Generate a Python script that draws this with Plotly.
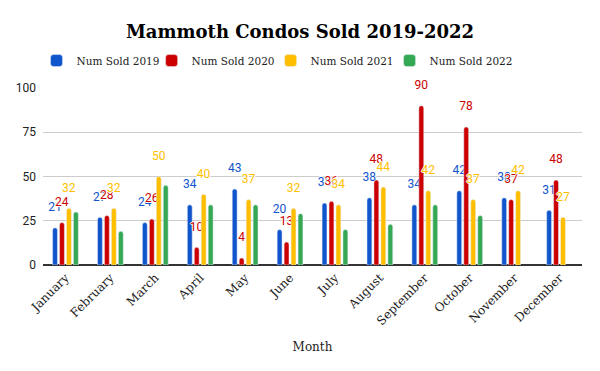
import plotly.graph_objects as go

months = ["January", "February", "March", "April", "May", "June", "July",
          "August", "September", "October", "November", "December"]
sold_2019 = [21, 27, 24, 34, 43, 20, 35, 38, 34, 42, 38, 31]
sold_2020 = [24, 28, 26, 10, 4, 13, 36, 48, 90, 78, 37, 48]
sold_2021 = [32, 32, 50, 40, 37, 32, 34, 44, 42, 37, 42, 27]
sold_2022 = [30, 19, 45, 34, 34, 29, 20, 23, 34, 28, None, None]

series = [
    ("Num Sold 2019", sold_2019, "#1155cc"),
    ("Num Sold 2020", sold_2020, "#cc0000"),
    ("Num Sold 2021", sold_2021, "#ffbf00"),
    ("Num Sold 2022", sold_2022, "#34a853"),
]
legend_x = [-0.012, 0.2015, 0.4223, 0.6430]

serif = "DejaVu Serif"
fig = go.Figure()
for i, (name, vals, color) in enumerate(series):
    show_text = name != "Num Sold 2022"
    lg = "legend" if i == 0 else f"legend{i + 1}"
    fig.add_trace(go.Bar(
        name=name, x=months, y=vals, marker_color=color, legend=lg, showlegend=True,
        text=[("" if v is None else f"{v}<br><span style='font-size:6px'> </span>")
              for v in vals] if show_text else None,
        textposition="outside" if show_text else "none",
        textfont=dict(color=color, size=12, family="Roboto",
                      shadow="1px 0px 0px white, -1px 0px 0px white, 0px 1px 0px white, 0px -1px 0px white"),
        cliponaxis=False, constraintext="none", hoverinfo="skip",
    ))

legend_common = dict(orientation="h", y=1.155, yanchor="middle", xanchor="left",
                     font=dict(family=serif, size=10.5, color="#222222"),
                     itemwidth=30, bgcolor="rgba(0,0,0,0)")
legends = {}
for i, lx in enumerate(legend_x):
    key = "legend" if i == 0 else f"legend{i + 1}"
    legends[key] = dict(legend_common, x=lx)

fig.update_layout(
    width=600, height=371, showlegend=True,
    barmode="group", bargap=0.38, bargroupgap=0.3, barcornerradius=3,
    plot_bgcolor="white", paper_bgcolor="white",
    margin=dict(l=43, r=18, t=88, b=106, autoexpand=False),
    title=dict(text="<b>Mammoth Condos Sold 2019-2022</b>", x=0.5, xanchor="center",
               y=0.915, yanchor="middle", automargin=False,
               font=dict(family=serif, size=18, color="#000000")),
    xaxis=dict(title=dict(text="Month", font=dict(family=serif, size=12, color="#222222")),
               tickangle=-45, tickfont=dict(family=serif, size=12, color="#222222"),
               showgrid=False, showline=True, linecolor="#333333", ticks=""),
    yaxis=dict(range=[0, 100], tickvals=[0, 25, 50, 75, 100],
               tickfont=dict(family="Roboto", size=12, color="#222222"),
               ticklabelstandoff=6,
               gridcolor="#cccccc", zeroline=True, zerolinecolor="#333333",
               showline=False, ticks=""),
    **legends,
)

fig.write_html("out.html", config={"displayModeBar": False},
               post_script="document.body.style.margin='0';")
